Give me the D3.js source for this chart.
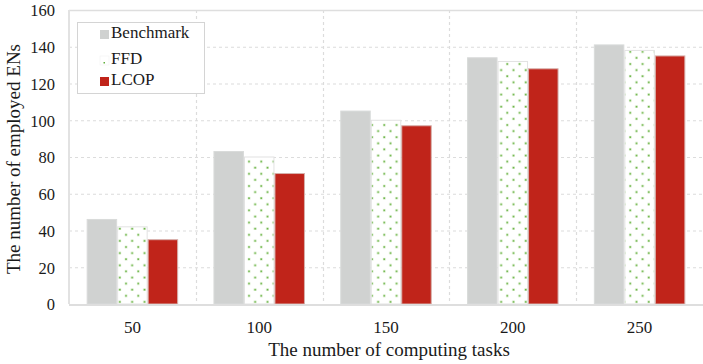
<!DOCTYPE html>
<html><head><meta charset="utf-8">
<script src="https://cdn.jsdelivr.net/npm/d3@7"></script>
<style>body{margin:0;background:#fff}svg{display:block}</style>
</head><body>
<svg id="c" width="703" height="364" font-family="'Liberation Serif', 'Times New Roman', Times, 'DejaVu Serif', serif"></svg>
<script>
const categories = ["50","100","150","200","250"];
const seriesNames = ["Benchmark","FFD","LCOP"];
const benchmark = [46,83,105,134,141];
const ffd = [42,80,100,132,138];
const lcop = [35,71,97,128,135];
const yTicks = [0,20,40,60,80,100,120,140,160];

const FONT = "'Liberation Serif', 'Times New Roman', Times, 'DejaVu Serif', serif";
const values = [benchmark, ffd, lcop];
const svg = d3.select("#c");
const defs = svg.append("defs");
const pat = defs.append("pattern").attr("id","dots").attr("patternUnits","userSpaceOnUse")
  .attr("width",12.3).attr("height",12.2);
pat.append("rect").attr("width",12.3).attr("height",12.2).attr("fill","#fff");
[[3,3],[9.15,9.1]].forEach(([x,y])=>{
  pat.append("rect").attr("x",x-1.2).attr("y",y-1.2).attr("width",2.4).attr("height",2.4).attr("fill","#c4e2b0");
  pat.append("rect").attr("x",x-0.7).attr("y",y-0.7).attr("width",1.4).attr("height",1.4).attr("fill","#5fae3a");
});
const fills = ["#d0d2d1","url(#dots)","#c0241a"];
const strokes = ["#d9dbda","#e2e2e2","#d6b0ab"];
const legendFills = ["#cfd1d0","#fff","#c0241a"];

const m = {l:69, r:0, t:10, b:60};
const W = 703, H = 364;
const x = d3.scaleBand().domain(categories).range([m.l, W-m.r]).padding(0);
const y = d3.scaleLinear().domain([0,160]).range([H-m.b, m.t]);
const groupW = 91.5;
const sub = d3.scaleBand().domain(seriesNames).range([(x.bandwidth()-groupW)/2, (x.bandwidth()+groupW)/2]).padding(0);

const g = svg.append("g");
g.selectAll("line.h").data(yTicks.slice(1,-1)).join("line")
  .attr("x1",m.l).attr("x2",W-m.r).attr("y1",d=>y(d)+0.5).attr("y2",d=>y(d)+0.5)
  .attr("stroke","#dcdcdc").attr("stroke-width",1.2).attr("stroke-dasharray","3,3");
g.selectAll("line.v").data(categories.slice(1)).join("line")
  .attr("x1",d=>Math.round(x(d))+0.5).attr("x2",d=>Math.round(x(d))+0.5).attr("y1",m.t).attr("y2",H-m.b)
  .attr("stroke","#dcdcdc").attr("stroke-width",1.2).attr("stroke-dasharray","3,3");
g.append("line").attr("x1",m.l).attr("x2",W).attr("y1",y(160)+0.5).attr("y2",y(160)+0.5).attr("stroke","#dedede").attr("stroke-width",1.5);

seriesNames.forEach((s,si)=>{
  svg.append("g").selectAll("rect").data(categories).join("rect")
    .attr("x",(d)=>x(d)+sub(s)+0.5)
    .attr("width",sub.bandwidth()-1)
    .attr("y",(d,i)=>y(values[si][i]))
    .attr("height",(d,i)=>y(0)-y(values[si][i]))
    .attr("fill",fills[si]).attr("stroke",strokes[si]).attr("stroke-width",1);
});

svg.append("line").attr("x1",m.l).attr("x2",W).attr("y1",y(0)+1).attr("y2",y(0)+1).attr("stroke","#dedede").attr("stroke-width",2);
svg.append("line").attr("x1",m.l).attr("x2",m.l).attr("y1",m.t).attr("y2",y(0)).attr("stroke","#e2e2e2").attr("stroke-width",2);

const yAxis = d3.axisLeft(y).tickValues(yTicks).tickSize(0).tickPadding(0);
const ya = svg.append("g").attr("transform",`translate(55,0)`).call(yAxis).attr("font-family",FONT).attr("font-size",16.5);
ya.select(".domain").remove();
ya.selectAll("text").attr("fill","#1a1a1a").attr("dy","0.35em");

const xAxis = d3.axisBottom(x).tickSize(0).tickPadding(0);
const xa = svg.append("g").attr("transform",`translate(0,${y(0)+23})`).call(xAxis).attr("font-family",FONT).attr("font-size",17);
xa.select(".domain").remove();
xa.selectAll("text").attr("fill","#1a1a1a").attr("dy","0.35em");

svg.append("text").attr("x",389).attr("y",352).attr("text-anchor","middle").attr("dominant-baseline","middle")
  .attr("font-size",19).attr("fill","#1a1a1a").text("The number of computing tasks");
svg.append("text").attr("transform",`translate(16,${(m.t+y(0))/2+2}) rotate(-90)`).attr("text-anchor","middle").attr("dominant-baseline","middle")
  .attr("font-size",19).attr("fill","#1a1a1a").text("The number of employed ENs");

const lg = svg.append("g");
lg.append("rect").attr("x",77.5).attr("y",22.5).attr("width",127).attr("height",71).attr("fill","#fff").attr("stroke","#d4d4d4");
const ly = [34,60,81];
seriesNames.forEach((s,i)=>{
  const sq = lg.append("rect").attr("x",100).attr("y",ly[i]-4).attr("width",9).attr("height",9)
    .attr("fill",legendFills[i]);
  if(i===1){ sq.attr("stroke","#eee").attr("stroke-width",0.5);
    lg.append("rect").attr("x",103.5).attr("y",ly[i]+2).attr("width",1.5).attr("height",1.5).attr("fill","#5fae3a"); }
  lg.append("text").attr("x",111).attr("y",ly[i]).attr("dominant-baseline","middle").attr("font-size",17).attr("fill","#1a1a1a").text(s);
});
</script>
</body></html>
